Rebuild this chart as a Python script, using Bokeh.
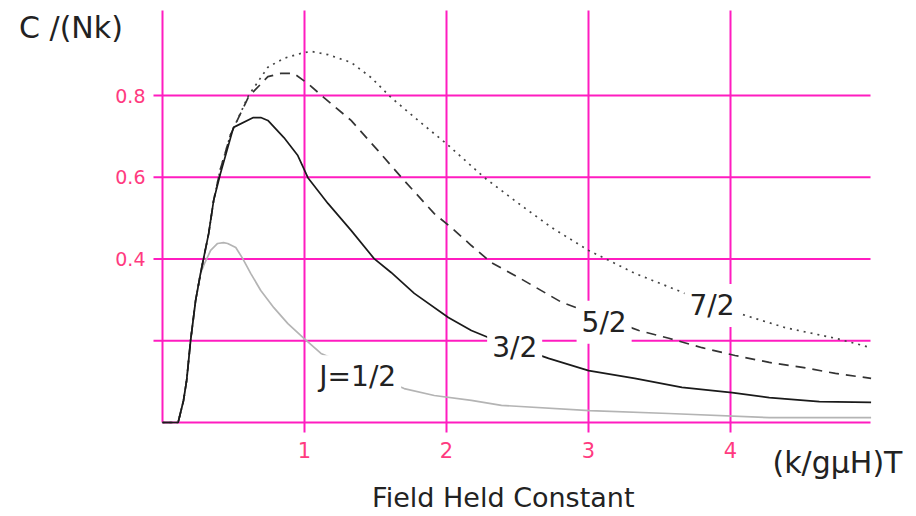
from bokeh.plotting import figure
from bokeh.models import Label, Range1d
from bokeh.core.properties import value
from bokeh.embed import file_html
from bokeh.resources import INLINE

# ---- data ----
x_j12 = [0, 0.11, 0.148, 0.17, 0.198, 0.233, 0.268, 0.296, 0.339, 0.388, 0.43, 0.459, 0.516,
         0.565, 0.621, 0.692, 0.784, 0.883, 0.996, 1.116, 1.702, 1.914, 2.175, 2.387, 3.008,
         3.566, 4.273, 4.99]
y_j12 = [0, 0, 0.054, 0.103, 0.201, 0.298, 0.365, 0.389, 0.421, 0.438, 0.44, 0.438, 0.428,
         0.401, 0.365, 0.323, 0.281, 0.242, 0.206, 0.169, 0.083, 0.066, 0.054, 0.042, 0.029,
         0.022, 0.012, 0.012]

x_j32 = [0, 0.11, 0.148, 0.17, 0.198, 0.233, 0.268, 0.325, 0.36, 0.408, 0.5, 0.64, 0.692,
         0.742, 0.855, 0.953, 1.024, 1.165, 1.328, 1.49, 1.61, 1.773, 2.013, 2.175, 2.295,
         2.719, 3.001, 3.326, 3.658, 4.011, 4.273, 4.626, 4.99]
y_j32 = [0, 0, 0.054, 0.103, 0.201, 0.298, 0.365, 0.462, 0.543, 0.609, 0.722, 0.746, 0.746,
         0.739, 0.697, 0.653, 0.599, 0.536, 0.47, 0.401, 0.367, 0.316, 0.257, 0.225, 0.208,
         0.157, 0.127, 0.108, 0.086, 0.073, 0.061, 0.051, 0.049]

x_j52 = [0, 0.11, 0.148, 0.17, 0.198, 0.233, 0.268, 0.325, 0.36, 0.408, 0.48, 0.606, 0.742,
         0.833, 0.925, 1.024, 1.137, 1.328, 1.518, 1.702, 1.914, 2.034, 2.175, 2.316, 2.507,
         2.811, 3.355, 3.566, 3.8, 4.032, 4.273, 4.506, 4.739, 4.99]
y_j52 = [0, 0, 0.054, 0.103, 0.201, 0.298, 0.365, 0.462, 0.543, 0.62, 0.705, 0.797, 0.846,
         0.854, 0.854, 0.829, 0.795, 0.739, 0.665, 0.592, 0.511, 0.477, 0.433, 0.391, 0.355,
         0.294, 0.225, 0.206, 0.183, 0.164, 0.147, 0.135, 0.12, 0.108]

x_j72 = [0, 0.11, 0.148, 0.17, 0.198, 0.233, 0.268, 0.325, 0.36, 0.408, 0.48, 0.606, 0.742,
         0.855, 0.975, 1.045, 1.165, 1.328, 1.469, 1.61, 1.801, 2.013, 2.267, 2.507, 2.74,
         3.001, 3.326, 3.679, 4.103, 4.386, 4.739, 4.99]
y_j72 = [0, 0, 0.054, 0.103, 0.201, 0.298, 0.365, 0.462, 0.543, 0.62, 0.705, 0.8, 0.869,
         0.891, 0.903, 0.908, 0.9, 0.881, 0.844, 0.795, 0.739, 0.678, 0.599, 0.536, 0.477,
         0.421, 0.365, 0.316, 0.262, 0.232, 0.206, 0.183]

x_grid = [0, 1, 2, 3, 4]
y_grid = [0, 0.2, 0.4, 0.6, 0.8]
x_tick_labels = ["", "1", "2", "3", "4"]
y_tick_labels = ["", "", "0.4", "0.6", "0.8"]

curve_labels = ["J=1/2", "3/2", "5/2", "7/2"]
label_x = [1.375, 2.48, 3.11, 3.87]
label_y = [0.112, 0.183, 0.245, 0.286]

# ---- layout / style ----
W, H = 916, 516
X0_PX, X_SCALE = 162, 142.0      # pixel of x=0, pixels per x unit
Y0_PX, Y_SCALE = 422, 408.75     # pixel of y=0, pixels per y unit
X_MAX = 4.986                    # right end of the plotting area
Y_MAX = 1.008                    # top end of the plotting area
TICK_X = 10 / Y_SCALE            # tick length below the x axis (y units)
TICK_Y = 9 / X_SCALE             # tick length left of the y axis (x units)

MAGENTA = "#ff1cc0"
PINK = "#ff3a80"
INK = "#222222"
FONT = "DejaVu Sans"

p = figure(width=W, height=H, output_backend="svg", toolbar_location=None,
           x_axis_location=None, y_axis_location=None,
           x_range=Range1d(-X0_PX / X_SCALE, (W - X0_PX) / X_SCALE),
           y_range=Range1d(-(H - Y0_PX) / Y_SCALE, Y0_PX / Y_SCALE),
           min_border=0)
p.outline_line_color = None
p.grid.visible = False
p.background_fill_color = "white"

# grid lines (with tick extensions outside the plotting area)
vx0 = [x for x in x_grid]
vy0 = [0 if x == 0 else -TICK_X for x in x_grid]
vy1 = [Y_MAX for x in x_grid]
p.segment(x0=vx0, y0=vy0, x1=vx0, y1=vy1, line_color=MAGENTA, line_width=2)
hx0 = [0 if y == 0 else -TICK_Y for y in y_grid]
hx1 = [X_MAX for y in y_grid]
p.segment(x0=hx0, y0=y_grid, x1=hx1, y1=y_grid, line_color=MAGENTA, line_width=2)

# tick labels
p.text(x=x_grid, y=[-(449 - Y0_PX) / Y_SCALE] * len(x_grid), text=x_tick_labels,
       text_align="center", text_baseline="middle", text_color=PINK,
       text_font=value(FONT), text_font_size="21px")
p.text(x=[-(X0_PX - 145) / X_SCALE] * len(y_grid), y=y_grid, text=y_tick_labels,
       text_align="right", text_baseline="middle", text_color=PINK,
       text_font=value(FONT), text_font_size="19px")

# curves
p.line(x_j12, y_j12, line_color="#b4b4b4", line_width=1.7)
p.line(x_j72, y_j72, line_color="#444444", line_width=1.7, line_dash="2 5")
p.line(x_j52, y_j52, line_color="#333333", line_width=1.7, line_dash="10 7")
p.line(x_j32, y_j32, line_color="#1a1a1a", line_width=1.7)

for txt, lx, ly in zip(curve_labels, label_x, label_y):
    p.add_layout(Label(x=lx, y=ly, text=txt, text_align="center", text_baseline="middle",
                       text_font=FONT, text_font_size="28px", text_color=INK,
                       background_fill_color="white", padding=5))

p.add_layout(Label(x=-1.01, y=0.966, text="C /(Nk)", text_align="left",
                   text_baseline="middle", text_font=FONT, text_font_size="30px",
                   text_color=INK))
p.add_layout(Label(x=4.296, y=-0.098, text="(k/gμH)T", text_align="left",
                   text_baseline="middle", text_font=FONT, text_font_size="30px",
                   text_color=INK))
p.add_layout(Label(x=2.40, y=-0.1835, text="Field Held Constant", text_align="center",
                   text_baseline="middle", text_font=FONT, text_font_size="27px",
                   text_color=INK))

open("out.html", "w").write(file_html(p, INLINE))
